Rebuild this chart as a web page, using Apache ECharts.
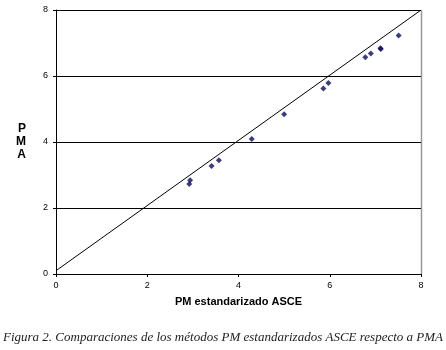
<!DOCTYPE html>
<html>
<head>
<meta charset="utf-8">
<script src="https://cdn.jsdelivr.net/npm/echarts@6/dist/echarts.min.js"></script>
<style>
  html, body { margin: 0; padding: 0; background: #fff; }
  #main { width: 446px; height: 350px; }
</style>
</head>
<body>
<div id="main"></div>
<script>
// PM estandarizado ASCE (x) vs PMA (y)
var asce = [7.51, 7.11, 7.12, 6.90, 6.78, 5.97, 5.86, 5.00, 4.29, 3.57, 3.41, 2.94, 2.92];
var pma  = [7.23, 6.84, 6.82, 6.68, 6.57, 5.79, 5.62, 4.84, 4.09, 3.45, 3.27, 2.84, 2.73];
// trend line end points
var lineX = [0, 8];
var lineY = [0.1, 8];
var axisTicks = [0, 2, 4, 6, 8];

var points = asce.map(function (v, i) { return [v, pma[i]]; });
var trend = lineX.map(function (v, i) { return [v, lineY[i]]; });

var chart = echarts.init(document.getElementById('main'));
chart.setOption({
    animation: false,
    title: {
        text: 'Figura 2. Comparaciones de los métodos PM estandarizados ASCE respecto a PMA',
        left: 'center',
        top: 326,
        textStyle: {
            fontFamily: 'Liberation Serif',
            fontStyle: 'italic',
            fontWeight: 'normal',
            fontSize: 13,
            color: '#222'
        }
    },
    grid: { left: 56, right: 25, top: 10, bottom: 76 },
    xAxis: {
        type: 'value',
        min: axisTicks[0],
        max: axisTicks[axisTicks.length - 1],
        interval: 2,
        name: 'PM estandarizado ASCE',
        nameLocation: 'middle',
        nameGap: 22,
        nameTextStyle: { fontFamily: 'Liberation Sans', fontWeight: 'bold', fontSize: 11, color: '#000' },
        axisLine: { lineStyle: { color: '#000', width: 1 } },
        axisTick: { show: true, length: 3, lineStyle: { color: '#000' } },
        axisLabel: { fontFamily: 'Liberation Sans', fontSize: 9, color: '#000', margin: 7 },
        splitLine: { show: false }
    },
    yAxis: {
        type: 'value',
        min: axisTicks[0],
        max: axisTicks[axisTicks.length - 1],
        interval: 2,
        name: 'P\nM\nA',
        nameLocation: 'middle',
        nameRotate: 0,
        nameGap: 30,
        nameTextStyle: {
            fontFamily: 'Liberation Sans', fontWeight: 'bold', fontSize: 12, color: '#000',
            lineHeight: 13, padding: [0, 0, 8, 0]
        },
        axisLine: { lineStyle: { color: '#000', width: 1 } },
        axisTick: { show: true, length: 3, lineStyle: { color: '#000' } },
        axisLabel: { fontFamily: 'Liberation Sans', fontSize: 9, color: '#000', margin: 8 },
        splitLine: { show: true, lineStyle: { color: '#000', width: 1 } }
    },
    series: [
        {
            type: 'line',
            data: trend,
            symbol: 'none',
            lineStyle: { color: '#000', width: 1 },
            z: 2
        },
        {
            type: 'scatter',
            data: points,
            symbol: 'diamond',
            symbolSize: 6,
            itemStyle: { color: '#0c0c5e' },
            z: 3
        }
    ],
    graphic: [
        {
            type: 'line',
            shape: { x1: 421.5, y1: 10, x2: 421.5, y2: 274 },
            style: { stroke: '#999', lineWidth: 1.5 }
        }
    ]
});
</script>
</body>
</html>
